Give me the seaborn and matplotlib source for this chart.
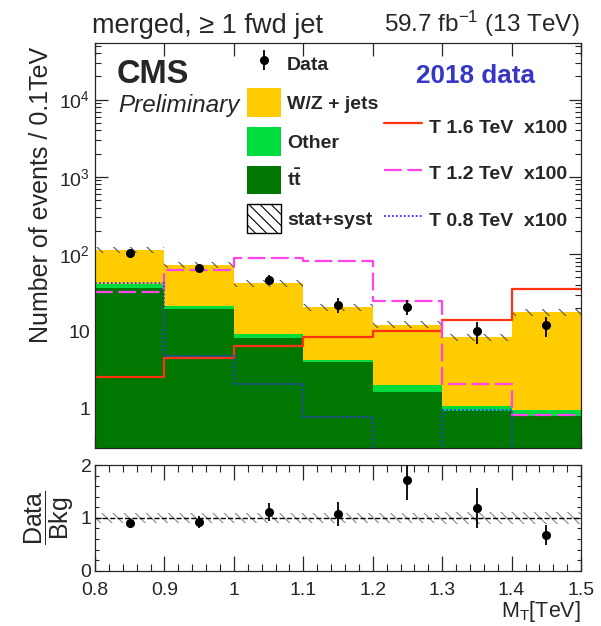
import numpy as np
import pandas as pd
import matplotlib
matplotlib.use('Agg')
import matplotlib.pyplot as plt
import seaborn as sns
from matplotlib.patches import Patch
from matplotlib.lines import Line2D
from matplotlib.ticker import MultipleLocator, LogLocator, FixedLocator, FixedFormatter, NullFormatter

# Binning in M_T [TeV]
bin_edges = [0.8, 0.9, 1.0, 1.1, 1.2, 1.3, 1.4, 1.5]
bin_centers = [0.85, 0.95, 1.05, 1.15, 1.25, 1.35, 1.45]

# Background yields (events / 0.1 TeV)
ttbar = [37.0, 19.5, 8.2, 4.0, 1.65, 0.94, 0.80]
other = [4.0, 2.0, 1.05, 0.30, 0.40, 0.15, 0.17]
wjets = [73.0, 51.5, 33.0, 16.2, 10.2, 7.3, 16.8]
bkg_unc = [0.10, 0.10, 0.10, 0.10, 0.10, 0.11, 0.11]  # relative stat+syst

# Observed data
data = [103, 67, 47, 22, 21, 10, 12]
data_err = [10.1, 8.2, 6.9, 4.7, 4.6, 3.2, 3.5]

# Signals (already scaled x100)
sig_16 = [2.6, 4.5, 6.4, 8.4, 10.2, 14.2, 35.0]
sig_12 = [32.5, 62.0, 88.0, 81.0, 25.0, 2.1, 0.82]
sig_08 = [42.0, 4.75, 2.1, 0.77, 0.30, 0.95, 0.30]

y_ticks = [1, 10, 100, 1000, 10000]
y_tick_labels = ['1', '10', r'$\mathregular{10^{2}}$', r'$\mathregular{10^{3}}$', r'$\mathregular{10^{4}}$']
ratio_ticks = [0, 1, 2]

c_wjets = '#ffcc00'
c_other = '#00dc3c'
c_ttbar = '#007800'
c_16 = '#ff3311'
c_12 = '#ff44ee'
c_08 = '#3333ff'

sns.set_style('ticks')
plt.rcParams['font.family'] = ['Liberation Sans', 'DejaVu Sans']
plt.rcParams['mathtext.fontset'] = 'custom'
plt.rcParams['mathtext.rm'] = 'Liberation Sans'
plt.rcParams['mathtext.it'] = 'Liberation Sans:italic'
plt.rcParams['mathtext.bf'] = 'Liberation Sans:bold'
plt.rcParams['hatch.linewidth'] = 0.8

fig = plt.figure(figsize=(6.01, 6.26), dpi=100)
ax = fig.add_axes([0.1581, 0.2843, 0.8087, 0.6470])
axr = fig.add_axes([0.1581, 0.0883, 0.8087, 0.1688])

# stacked backgrounds (first hue level ends up on top)
df = pd.DataFrame({
    'mt': bin_centers * 3,
    'events': ttbar + other + wjets,
    'process': ['ttbar'] * 7 + ['Other'] * 7 + ['W/Z + jets'] * 7,
})
sns.histplot(data=df, x='mt', weights='events', hue='process',
             hue_order=['W/Z + jets', 'Other', 'ttbar'], multiple='stack',
             bins=bin_edges, element='step', alpha=1, linewidth=0,
             palette={'ttbar': c_ttbar, 'Other': c_other, 'W/Z + jets': c_wjets},
             legend=False, ax=ax)

total = np.array(ttbar) + np.array(other) + np.array(wjets)
unc = np.array(bkg_unc)
ax.stairs(total * (1 + unc), bin_edges, baseline=total * (1 - unc), fill=True,
          facecolor='none', edgecolor='#555555', hatch='\\\\', linewidth=0)

# signals
sns.histplot(x=bin_centers, weights=sig_16, bins=bin_edges, element='step', fill=False,
             color=c_16, linewidth=1.6, ax=ax)
sns.histplot(x=bin_centers, weights=sig_12, bins=bin_edges, element='step', fill=False,
             color=c_12, linewidth=1.6, dashes=(8, 2.5), ax=ax)
sns.histplot(x=bin_centers, weights=sig_08, bins=bin_edges, element='step', fill=False,
             color=c_08, linewidth=1.3, linestyle=(0, (1, 1.2)), ax=ax)

data_cont = ax.errorbar(bin_centers, data, yerr=data_err, fmt='o', color='black',
                        ms=5.5, elinewidth=1.3, capsize=0, label='Data', zorder=5)

ax.set_yscale('log')
ax.set_ylim(0.31, 5.4e4)
ax.set_xlim(0.8, 1.5)
ax.yaxis.set_major_locator(FixedLocator(y_ticks))
ax.yaxis.set_major_formatter(FixedFormatter(y_tick_labels))
ax.yaxis.set_minor_locator(LogLocator(base=10, subs=np.arange(2, 10)))
ax.yaxis.set_minor_formatter(NullFormatter())
ax.xaxis.set_major_locator(MultipleLocator(0.1))
ax.set_xticklabels([])
ax.set_xlabel('')
ax.tick_params(which='both', direction='in', top=True, right=True, labelsize=14, pad=3.5)
ax.tick_params(which='major', length=9, width=0.9)
ax.tick_params(which='minor', length=4.5, width=0.8)
ax.set_ylabel('Number of events / 0.1TeV', fontsize=18, loc='top')
ax.yaxis.set_label_coords(-0.087, 0.99)
for s in ax.spines.values():
    s.set_linewidth(0.9)

# legends
leg1_handles = [data_cont,
                Patch(facecolor=c_wjets, edgecolor='none'),
                Patch(facecolor=c_other, edgecolor='none'),
                Patch(facecolor=c_ttbar, edgecolor='none'),
                Patch(facecolor='white', edgecolor='black', hatch='\\\\\\', linewidth=1)]
leg1_labels = ['Data', 'W/Z + jets', 'Other', r'$\mathbf{t\bar{t}}$', 'stat+syst']
fig.legend(leg1_handles, leg1_labels, loc='upper left',
           bbox_to_anchor=(247 / 601, 1 - 49.5 / 626), bbox_transform=fig.transFigure,
           frameon=False, borderpad=0, borderaxespad=0,
           handlelength=1.75, handleheight=1.9, handletextpad=0.31, labelspacing=0.51,
           prop={'weight': 'bold', 'size': 14})

leg2_handles = [Line2D([], [], color=c_16, lw=1.6),
                Line2D([], [], color=c_12, lw=1.6, dashes=(8, 2.5)),
                Line2D([], [], color=c_08, lw=1.3, linestyle=(0, (1, 1.2)))]
leg2_labels = ['T 1.6 TeV  x100', 'T 1.2 TeV  x100', 'T 0.8 TeV  x100']
fig.legend(leg2_handles, leg2_labels, loc='upper left',
           bbox_to_anchor=(384 / 601, 1 - 114 / 626), bbox_transform=fig.transFigure,
           frameon=False, borderpad=0, borderaxespad=0,
           handlelength=1.95, handleheight=1.54, handletextpad=0.36, labelspacing=1.15,
           prop={'weight': 'bold', 'size': 14})

# labels
fig.text(92 / 601, 1 - 33 / 626, 'merged, \u2265 1 fwd jet', fontsize=19.5, va='baseline', ha='left')
fig.text(580 / 601, 1 - 32 / 626, r'59.7 fb$^{-1}$ (13 TeV)', fontsize=17.5, va='baseline', ha='right')
fig.text(117 / 601, 1 - 83 / 626, 'CMS', fontsize=23.5, fontweight='bold', va='baseline', ha='left')
fig.text(118 / 601, 1 - 112 / 626, 'Preliminary', fontsize=17.5, style='italic', va='baseline', ha='left')
fig.text(476 / 601, 1 - 83 / 626, '2018 data', fontsize=18.8, fontweight='bold', color='#3636c8',
         va='baseline', ha='center')

# ratio panel
ratio = np.array(data) / total
ratio_err = np.array(data_err) / total
axr.stairs(1 + unc, bin_edges, baseline=1 - unc, fill=True, facecolor='none',
           edgecolor='#888888', hatch='\\\\\\', linewidth=0)
axr.axhline(1, color='black', ls='--', lw=1)
axr.errorbar(bin_centers, ratio, yerr=ratio_err, fmt='o', color='black', ms=5.5,
             elinewidth=1.3, capsize=0, zorder=5)
axr.set_xlim(0.8, 1.5)
axr.set_ylim(0, 2)
axr.yaxis.set_major_locator(FixedLocator(ratio_ticks))
axr.yaxis.set_minor_locator(MultipleLocator(0.2))
axr.xaxis.set_major_locator(MultipleLocator(0.1))
axr.xaxis.set_minor_locator(MultipleLocator(0.02))
axr.xaxis.set_major_formatter(matplotlib.ticker.FuncFormatter(lambda v, p: f'{v:g}'))
axr.tick_params(which='both', direction='in', top=True, right=True, labelsize=14)
axr.tick_params(axis='x', which='major', length=11, width=0.9, pad=8)
axr.tick_params(axis='x', which='minor', length=5, width=0.8)
axr.tick_params(axis='y', which='major', length=5, width=0.8, pad=2.5)
axr.tick_params(axis='y', which='minor', length=3, width=0.8)
axr.set_xlabel(r'M$_\mathregular{T}$[TeV]', fontsize=15.5, loc='right', labelpad=0)
axr.set_ylabel(r'$\dfrac{\mathregular{Data}}{\mathregular{Bkg}}$', fontsize=18)
axr.yaxis.set_label_coords(-0.04, 0.5)
for s in axr.spines.values():
    s.set_linewidth(0.9)

fig.savefig('out.png', dpi=100)
